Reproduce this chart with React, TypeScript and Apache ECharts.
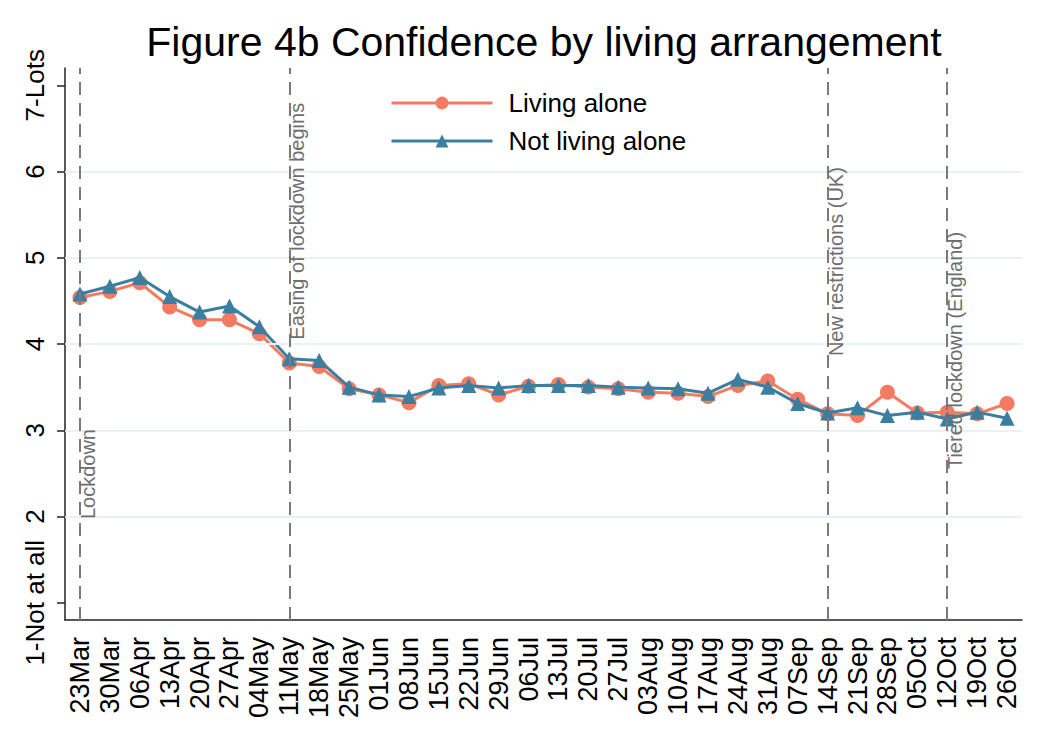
import React, { useEffect, useRef } from "react";
import * as echarts from "echarts";

const categories = [
  "23Mar", "30Mar", "06Apr", "13Apr", "20Apr", "27Apr", "04May", "11May",
  "18May", "25May", "01Jun", "08Jun", "15Jun", "22Jun", "29Jun", "06Jul",
  "13Jul", "20Jul", "27Jul", "03Aug", "10Aug", "17Aug", "24Aug", "31Aug",
  "07Sep", "14Sep", "21Sep", "28Sep", "05Oct", "12Oct", "19Oct", "26Oct",
];

const livingAlone = [
  4.54, 4.61, 4.71, 4.43, 4.28, 4.28, 4.12, 3.78,
  3.74, 3.48, 3.41, 3.32, 3.52, 3.54, 3.41, 3.51,
  3.53, 3.50, 3.48, 3.44, 3.43, 3.39, 3.52, 3.57,
  3.36, 3.19, 3.17, 3.44, 3.20, 3.21, 3.19, 3.31,
];

const notLivingAlone = [
  4.58, 4.67, 4.77, 4.55, 4.37, 4.44, 4.20, 3.83,
  3.81, 3.50, 3.41, 3.39, 3.49, 3.52, 3.49, 3.52,
  3.52, 3.52, 3.50, 3.49, 3.48, 3.43, 3.59, 3.50,
  3.31, 3.20, 3.26, 3.17, 3.21, 3.13, 3.21, 3.14,
];

const yTickValues = [1, 2, 3, 4, 5, 6, 7];
const yTickLabels = ["1-Not at all", "2", "3", "4", "5", "6", "7-Lots"];
const gridValues = [2, 3, 4, 5, 6];

const eventDates = ["23Mar", "11May", "14Sep", "12Oct"];
const eventLabels = [
  "Lockdown",
  "Easing of lockdown begins",
  "New restrictions (UK)",
  "Tiered lockdown (England)",
];
const eventLabelY = [1.97, 4.05, 3.86, 2.55];

const FONT = "'Liberation Sans', Arial, sans-serif";
const CORAL = "#F47B62";
const BLUE = "#3A7EA0";

export default function App() {
  const ref = useRef<HTMLDivElement>(null);

  useEffect(() => {
    if (!ref.current) return;
    const chart = echarts.init(ref.current, undefined, { renderer: "svg" });
    const option: any = {
      animation: false,
      backgroundColor: "#ffffff",
      textStyle: { fontFamily: FONT },
      title: {
        text: "Figure 4b Confidence by living arrangement",
        left: 539,
        top: 16,
        textAlign: "center",
        textStyle: { fontFamily: FONT, fontSize: 41, fontWeight: "normal", color: "#000" },
      },
      legend: {
        orient: "vertical",
        left: 390,
        top: 90,
        padding: 0,
        itemWidth: 101,
        itemHeight: 16,
        itemGap: 12,
        lineStyle: { width: 3 },
        textStyle: { fontFamily: FONT, fontSize: 26, color: "#000", padding: [0, 0, 0, 11] },
        data: ["Living alone", "Not living alone"],
      },
      grid: { left: 65, right: 26, top: 68, bottom: 116, containLabel: false, outerBoundsMode: "none" },
      xAxis: {
        type: "category",
        data: categories,
        boundaryGap: true,
        axisLine: { lineStyle: { color: "#222", width: 1.5 } },
        axisTick: { alignWithLabel: true, length: 10, lineStyle: { color: "#222", width: 1.5 } },
        axisLabel: {
          interval: 0,
          rotate: 90,
          margin: 17,
          fontSize: 27,
          color: "#000",
          fontFamily: FONT,
        },
        splitLine: { show: false },
      },
      yAxis: {
        type: "value",
        min: 0.8,
        max: 7.2,
        axisLine: { show: true, lineStyle: { color: "#222", width: 1.5 } },
        axisTick: { show: true, length: 8, customValues: yTickValues, lineStyle: { color: "#222", width: 1.5 } },
        axisLabel: {
          customValues: yTickValues,
          rotate: 90,
          margin: 17,
          fontSize: 26,
          color: "#000",
          fontFamily: FONT,
          formatter: (v: number) => {
            const i = yTickValues.indexOf(Math.round(v));
            return i >= 0 ? yTickLabels[i] : "";
          },
        },
        splitLine: { show: false },
      },
      series: [
        {
          name: "Grid",
          type: "line",
          data: [],
          silent: true,
          markLine: {
            silent: true,
            symbol: "none",
            label: { show: false },
            lineStyle: { color: "#EAF1F3", width: 2, type: "solid" },
            data: gridValues.map((v) => ({ yAxis: v })),
          },
        },
        {
          name: "Events",
          type: "line",
          data: [],
          silent: true,
          markLine: {
            silent: true,
            symbol: "none",
            label: { show: false },
            lineStyle: { color: "#7a7a7a", width: 2, type: [13, 8] },
            data: eventDates.map((d) => ({ xAxis: d })),
          },
        },
        {
          name: "Living alone",
          type: "line",
          data: livingAlone,
          symbol: "circle",
          symbolSize: 15,
          itemStyle: { color: CORAL },
          lineStyle: { color: CORAL, width: 3 },
          z: 3,
        },
        {
          name: "Not living alone",
          type: "line",
          data: notLivingAlone,
          symbol: "triangle",
          symbolSize: 15,
          itemStyle: { color: BLUE },
          lineStyle: { color: BLUE, width: 3 },
          z: 4,
        },
      ],
    };
    chart.setOption(option);

    const texts = eventDates.map((d, i) => {
      const p = chart.convertToPixel({ gridIndex: 0 }, [d, eventLabelY[i]]) as number[];
      return {
        type: "text",
        x: p[0] + 8,
        y: p[1],
        rotation: Math.PI / 2,
        z: 10,
        style: {
          text: eventLabels[i],
          fill: "#6e6e6e",
          font: `20px ${FONT}`,
          align: "left",
          verticalAlign: "middle",
        },
      };
    });
    chart.setOption({ graphic: texts });

    return () => chart.dispose();
  }, []);

  return (
    <div
      ref={ref}
      style={{ position: "absolute", left: 0, top: 0, width: 1048, height: 736, background: "#fff" }}
    />
  );
}
